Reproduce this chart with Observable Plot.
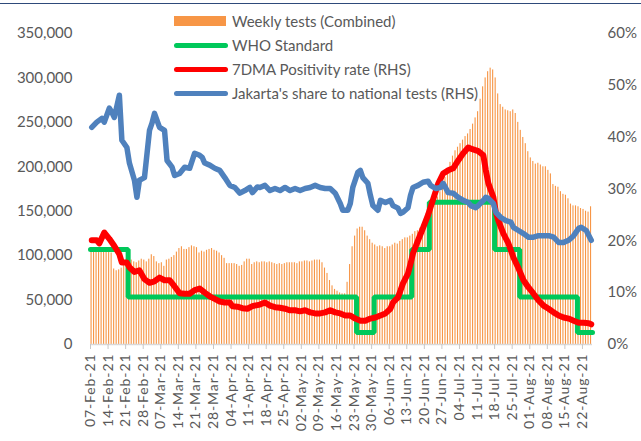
<!DOCTYPE html>
<html><head><meta charset="utf-8">
<script src="https://cdn.jsdelivr.net/npm/d3@7"></script>
<script src="https://cdn.jsdelivr.net/npm/@observablehq/plot@0.6"></script>
<style>
body{margin:0;background:#fff;}
#wrap{position:relative;width:641px;height:441px;overflow:hidden;font-family:Lato,sans-serif;}
#wrap svg{position:absolute;left:0;top:0;background:transparent;}
.leg{position:absolute;font:15px Lato,sans-serif;color:#595959;white-space:nowrap;line-height:18px;}
.sw{position:absolute;}
#topline{position:absolute;left:0;top:3px;width:641px;height:1px;background:#2E4A7A;}
.xlab text{letter-spacing:0.9px;}
</style></head><body><div id="wrap"><div id="topline"></div></div>
<script>
// ---- data ----
const startDate = "2021-02-07";
const endDate = "2021-08-26";
// Weekly (7-day rolling) tests, combined, in thousands, one per day from 07-Feb-21
const weeklyTestsK = [
 106,107,106,105,106,104,105,
 105,103,85,83,84,86,95,
 96,94,95,93,92,94,96,
 95,93,96,101,99,93,91,
 92,88,95,96,98,100,104,
 108,110,107,107,109,111,110,
 109,103,105,104,106,107,108,
 106,105,103,100,97,91,91,
 91,91,90,88,89,93,96,
 96,90,92,93,92,93,93,
 92,93,92,91,90,91,90,
 91,92,92,92,92,91,93,
 93,94,94,93,94,95,95,
 95,92,86,80,72,66,62,
 60,58,57,57,70,90,110,
 122,130,132,132,128,122,118,
 114,112,110,111,110,108,110,
 110,112,114,113,116,118,120,
 120,122,124,127,128,131,134,
 136,142,148,152,160,166,172,
 178,188,196,205,212,218,222,
 226,230,234,237,242,248,255,
 262,276,290,300,307,311,309,
 300,282,270,267,264,263,262,
 264,260,250,241,233,226,217,
 210,206,203,204,202,200,200,
 196,192,180,178,177,172,169,
 168,164,158,156,156,155,153,
 152,150,149,155
];
// WHO standard (thousands of weekly tests): step start day index and level
const whoStartDay = [0, 15, 106, 113, 128, 135, 161, 171, 194, 200];
const whoLevelK   = [107, 53.5, 13.4, 53.5, 107, 160, 107, 53.5, 13.4, 13.4];
// 7DMA positivity rate (%), RHS
const posDay  = [0,2,3,5,7,9,11,12,14,15,17,19,21,23,25,27,29,31,33,35,37,39,41,43,45,47,49,51,53,55,56,58,60,62,64,66,67,69,71,73,75,77,79,81,83,85,87,89,91,93,95,97,99,101,103,105,107,109,111,113,115,117,119,120,122,123,124,126,127,128,130,132,134,136,138,140,142,144,146,148,150,151,154,156,157,158,160,161,162,164,166,168,170,172,174,176,178,180,182,184,186,188,190,192,194,196,198,199];
const posRate = [20.1,20.1,19.5,21.6,20.4,19.0,17.4,15.8,15.8,14.9,14.0,14.3,12.6,11.9,12.2,12.9,12.4,12.4,11.2,9.9,9.8,9.8,10.5,10.8,10.0,9.3,8.8,8.3,8.1,8.1,7.4,7.3,7.0,6.9,7.4,7.6,7.7,8.1,7.5,7.2,7.1,6.9,6.6,6.6,6.4,6.6,6.2,6.0,6.0,6.2,6.6,6.2,6.0,5.6,5.6,5.0,4.6,4.6,5.0,5.2,5.6,6.0,6.9,8.1,9.1,10.4,11.8,13.7,15.6,17.6,20.1,22.5,25.0,28.0,31.0,33.0,33.6,34.0,35.5,36.9,38.0,37.8,37.3,36.5,33.6,31.1,28.4,25.5,23.9,21.4,19.5,16.8,14.7,12.4,11.0,9.8,8.5,7.5,6.9,6.2,5.6,5.2,5.0,4.6,4.2,4.2,4.1,3.9];
// Jakarta's share to national tests (%), RHS
const shareDay = [0,2,4,5,7,8,9,11,12,14,15,17,18,19,21,23,24,25,27,29,30,32,33,35,37,39,41,43,44,45,47,49,51,53,55,57,59,61,63,64,66,67,69,71,73,75,77,79,81,83,85,87,89,91,93,95,97,99,100,102,103,104,106,107,108,110,111,112,114,115,117,119,120,122,123,124,126,127,128,130,132,134,135,137,139,140,142,144,146,148,150,151,153,154,156,157,158,160,161,163,165,167,168,170,172,174,176,178,180,182,184,186,188,190,192,194,195,197,199];
const shareVal = [41.9,42.9,43.6,42.9,45.6,44.8,43.8,48.1,39.4,38.0,35.0,31.7,28.4,31.7,32.2,41.3,42.7,44.6,41.9,41.3,35.5,34.2,32.6,33.0,34.2,34.0,36.9,36.5,36.1,35.0,34.6,34.0,33.6,32.2,30.7,30.3,29.2,29.7,30.3,29.3,30.4,30.3,30.7,29.7,30.1,29.7,30.3,29.7,30.1,29.7,30.1,30.3,30.7,30.3,30.1,30.1,29.2,27.2,25.9,25.9,27.2,30.3,33.2,33.6,32.2,31.1,28.8,26.8,25.9,27.8,27.4,27.8,26.8,26.3,25.3,25.5,26.4,28.8,30.3,30.7,31.3,31.5,30.7,30.1,30.3,31.1,29.3,29.2,28.4,27.8,27.4,26.8,26.4,26.8,27.8,28.4,28.2,27.2,25.5,24.5,23.9,23.6,22.6,22.0,21.4,20.7,20.7,21.0,21.0,21.0,20.7,19.7,19.7,20.1,21.0,22.4,22.6,22.0,20.1];
const leftTicksK = [0,50,100,150,200,250,300,350];
const rightTicks = [0,0.1,0.2,0.3,0.4,0.5,0.6];
const seriesNames = ["Weekly tests (Combined)", " WHO Standard", "7DMA Positivity rate (RHS)", "Jakarta's share to national tests (RHS)"];
const colors = ["#F79646", "#00C85A", "#FF0000", "#4F81BD"];

// ---- build ----
const t0 = new Date(startDate + "T00:00:00Z");
const t1 = new Date(endDate + "T00:00:00Z");
const dayAt = (d) => d3.utcHour.offset(t0, d * 24);
const bars = weeklyTestsK.map((v, i) => ({x1: d3.utcDay.offset(t0, i), x2: d3.utcDay.offset(t0, i + 1), v}));
const who = whoStartDay.map((d, i) => ({date: dayAt(d), v: whoLevelK[i]}));
const pos = posDay.map((d, i) => ({date: dayAt(d + 0.5), v: posRate[i] / 100}));
const share = shareDay.map((d, i) => ({date: dayAt(d + 0.5), v: shareVal[i] / 100}));
const weekTicks = d3.utcWeek.every(1).range(t0, t1);
const fmtDate = d3.utcFormat("%d-%b-%y");

const common = {
  width: 641, height: 441,
  marginLeft: 90, marginRight: 49, marginTop: 33, marginBottom: 97,
  style: {fontFamily: "Lato, sans-serif", fontSize: "15px", color: "#595959", background: "transparent"}
};

const left = Plot.plot({
  ...common,
  x: {type: "utc", domain: [t0, t1], axis: null},
  y: {domain: [0, 350], axis: null},
  marks: [
    Plot.rectY(bars, {x1: "x1", x2: "x2", y: "v", fill: colors[0], insetLeft: 0.5, insetRight: 0.9}),
    Plot.line(who, {x: "date", y: "v", curve: "step-after", stroke: colors[1], strokeWidth: 5, strokeLinejoin: "miter"}),
    Plot.ruleY([0], {stroke: "#d9d9d9", strokeWidth: 1.5}),
    Plot.axisY({ticks: leftTicksK, tickFormat: (d) => d3.format(",")(d * 1000), tickSize: 0, tickPadding: 18, fill: "#595959", fontSize: 15, label: null}),
    Plot.axisX({ticks: weekTicks, tickFormat: fmtDate, tickRotate: -90, tickSize: 5, tickPadding: 4, stroke: "#c8c8c8", fill: "#595959", fontSize: 14, label: null, className: "xlab"})
  ]
});

const right = Plot.plot({
  ...common,
  x: {type: "utc", domain: [t0, t1], axis: null},
  y: {domain: [0, 0.6], axis: null},
  marks: [
    Plot.line(pos, {x: "date", y: "v", stroke: colors[2], strokeWidth: 6, curve: "linear"}),
    Plot.line(share, {x: "date", y: "v", stroke: colors[3], strokeWidth: 5.5, curve: "linear"}),
    Plot.axisY({anchor: "right", ticks: rightTicks, tickFormat: d3.format(".0%"), tickSize: 0, tickPadding: 15, fill: "#595959", fontSize: 15, label: null})
  ]
});

const wrap = document.getElementById("wrap");
wrap.appendChild(left);
wrap.appendChild(right);

// legend
const legY = [21, 45, 69, 93];
seriesNames.forEach((name, i) => {
  const sw = document.createElement("div");
  sw.className = "sw";
  if (i === 0) {
    Object.assign(sw.style, {left: "174px", top: (legY[i] - 5) + "px", width: "52px", height: "10px", background: colors[i]});
  } else {
    Object.assign(sw.style, {left: "174px", top: (legY[i] - 2.5) + "px", width: "54px", height: "5px", background: colors[i], borderRadius: "3px"});
  }
  wrap.appendChild(sw);
  const t = document.createElement("div");
  t.className = "leg";
  t.textContent = name;
  Object.assign(t.style, {left: "232px", top: (legY[i] - 9) + "px"});
  wrap.appendChild(t);
});
</script>
</body></html>
